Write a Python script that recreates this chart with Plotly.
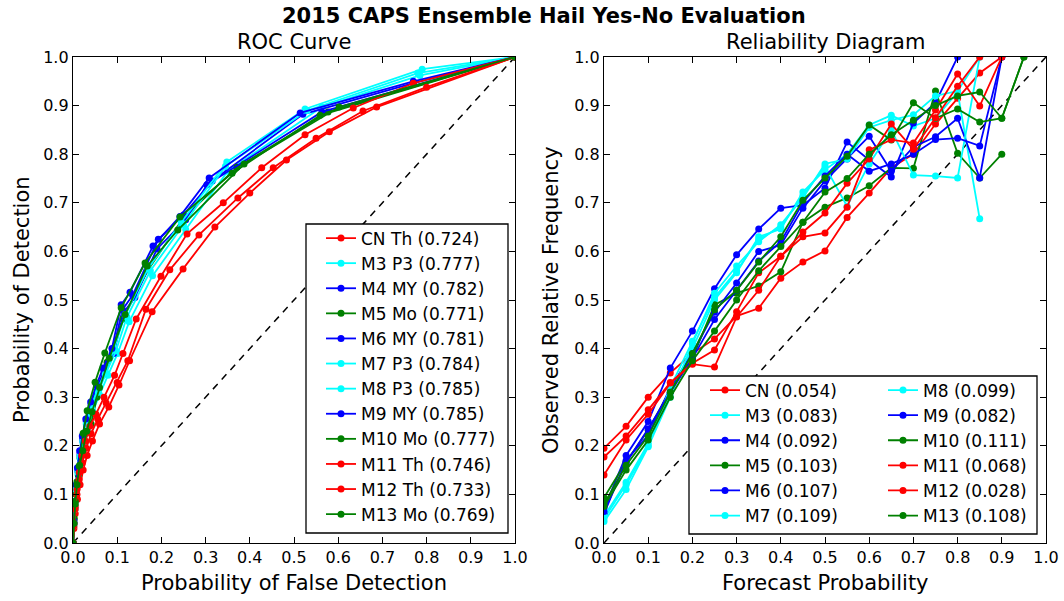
import plotly.graph_objects as go

# ---------------------------------------------------------------- data
names_roc = ["CN Th (0.724)", "M3 P3 (0.777)", "M4 MY (0.782)", "M5 Mo (0.771)",
             "M6 MY (0.781)", "M7 P3 (0.784)", "M8 P3 (0.785)", "M9 MY (0.785)",
             "M10 Mo (0.777)", "M11 Th (0.746)", "M12 Th (0.733)", "M13 Mo (0.769)"]
names_rel = ["CN (0.054)", "M3 (0.083)", "M4 (0.092)", "M5 (0.103)", "M6 (0.107)",
             "M7 (0.109)", "M8 (0.099)", "M9 (0.082)", "M10 (0.111)", "M11 (0.068)",
             "M12 (0.028)", "M13 (0.108)"]
colors = ["#ff0000", "#00ffff", "#0000ff", "#008000", "#0000ff", "#00ffff",
          "#00ffff", "#0000ff", "#008000", "#ff0000", "#ff0000", "#008000"]

# ROC curve points (probability of false detection, probability of detection)
pofd_cn = [0, 0.002, 0.005, 0.010, 0.016, 0.023, 0.032, 0.044, 0.060, 0.081, 0.104, 0.128,
           0.179, 0.249, 0.321, 0.400, 0.483, 0.580, 0.687, 1.0]
pod_cn = [0, 0.03, 0.06, 0.09, 0.12, 0.15, 0.18, 0.21, 0.245, 0.28, 0.325, 0.375,
          0.476, 0.564, 0.650, 0.720, 0.788, 0.846, 0.897, 1.0]
pofd_m3 = [0, 0.002, 0.005, 0.008, 0.012, 0.017, 0.024, 0.033, 0.045, 0.060, 0.079, 0.101,
           0.127, 0.180, 0.255, 0.350, 0.563, 0.785, 1.0]
pod_m3 = [0, 0.035, 0.07, 0.105, 0.14, 0.17, 0.20, 0.235, 0.27, 0.305, 0.345, 0.39,
          0.455, 0.55, 0.645, 0.765, 0.897, 0.962, 1.0]
pofd_m4 = [0, 0.002, 0.004, 0.007, 0.011, 0.016, 0.022, 0.030, 0.041, 0.054, 0.070, 0.090,
           0.112, 0.135, 0.193, 0.250, 0.315, 0.520, 0.770, 1.0]
pod_m4 = [0, 0.04, 0.08, 0.115, 0.15, 0.185, 0.215, 0.25, 0.285, 0.32, 0.355, 0.395,
          0.48, 0.51, 0.625, 0.675, 0.745, 0.882, 0.946, 1.0]
pofd_m5 = [0, 0.003, 0.007, 0.012, 0.016, 0.023, 0.041, 0.054, 0.077, 0.113, 0.170, 0.249,
           0.371, 0.577, 1.0]
pod_m5 = [0, 0.05, 0.10, 0.14, 0.175, 0.20, 0.245, 0.30, 0.372, 0.461, 0.562, 0.668,
          0.773, 0.887, 1.0]
pofd_m6 = [0, 0.002, 0.004, 0.007, 0.011, 0.016, 0.022, 0.031, 0.042, 0.056, 0.071, 0.092,
           0.115, 0.140, 0.190, 0.255, 0.303, 0.563, 1.0]
pod_m6 = [0, 0.04, 0.078, 0.112, 0.148, 0.18, 0.21, 0.245, 0.28, 0.315, 0.35, 0.39,
          0.475, 0.505, 0.605, 0.665, 0.737, 0.887, 1.0]
pofd_m7 = [0, 0.002, 0.004, 0.007, 0.011, 0.016, 0.023, 0.031, 0.043, 0.057, 0.075, 0.097,
           0.122, 0.175, 0.250, 0.345, 0.530, 0.780, 1.0]
pod_m7 = [0, 0.04, 0.075, 0.11, 0.145, 0.175, 0.205, 0.24, 0.275, 0.31, 0.35, 0.395,
          0.465, 0.56, 0.655, 0.775, 0.89, 0.967, 1.0]
pofd_m8 = [0, 0.002, 0.004, 0.007, 0.011, 0.016, 0.022, 0.030, 0.041, 0.055, 0.072, 0.093,
           0.118, 0.170, 0.245, 0.348, 0.525, 0.790, 1.0]
pod_m8 = [0, 0.04, 0.08, 0.115, 0.15, 0.18, 0.21, 0.245, 0.28, 0.315, 0.35, 0.40,
          0.47, 0.565, 0.66, 0.784, 0.893, 0.975, 1.0]
pofd_m9 = [0, 0.002, 0.004, 0.007, 0.010, 0.015, 0.021, 0.029, 0.040, 0.053, 0.068, 0.088,
           0.109, 0.129, 0.181, 0.242, 0.308, 0.514, 0.770, 1.0]
pod_m9 = [0, 0.045, 0.085, 0.12, 0.155, 0.19, 0.22, 0.255, 0.29, 0.325, 0.36, 0.40,
          0.49, 0.516, 0.611, 0.672, 0.751, 0.885, 0.95, 1.0]
pofd_m10 = [0, 0.002, 0.005, 0.009, 0.014, 0.023, 0.032, 0.050, 0.072, 0.109, 0.163, 0.242,
            0.360, 0.559, 1.0]
pod_m10 = [0, 0.041, 0.086, 0.126, 0.158, 0.226, 0.272, 0.331, 0.391, 0.484, 0.576, 0.671,
           0.761, 0.880, 1.0]
pofd_m11 = [0, 0.002, 0.005, 0.009, 0.014, 0.020, 0.028, 0.038, 0.052, 0.070, 0.094, 0.113,
            0.143, 0.199, 0.258, 0.340, 0.427, 0.525, 0.634, 0.770, 1.0]
pod_m11 = [0, 0.04, 0.075, 0.11, 0.145, 0.18, 0.21, 0.24, 0.265, 0.30, 0.345, 0.39,
           0.461, 0.549, 0.636, 0.700, 0.772, 0.840, 0.895, 0.946, 1.0]
pofd_m12 = [0, 0.002, 0.005, 0.009, 0.014, 0.021, 0.030, 0.041, 0.056, 0.075, 0.100, 0.124,
            0.165, 0.219, 0.285, 0.373, 0.453, 0.550, 0.656, 0.800, 1.0]
pod_m12 = [0, 0.035, 0.07, 0.10, 0.13, 0.165, 0.195, 0.225, 0.255, 0.288, 0.33, 0.375,
           0.481, 0.562, 0.634, 0.710, 0.772, 0.833, 0.889, 0.938, 1.0]
pofd_m13 = [0, 0.002, 0.005, 0.009, 0.015, 0.022, 0.031, 0.043, 0.060, 0.082, 0.118, 0.168,
            0.237, 0.387, 0.602, 1.0]
pod_m13 = [0, 0.04, 0.08, 0.12, 0.16, 0.19, 0.23, 0.27, 0.32, 0.38, 0.47, 0.57,
           0.644, 0.780, 0.897, 1.0]

roc_pofd = [pofd_cn, pofd_m3, pofd_m4, pofd_m5, pofd_m6, pofd_m7, pofd_m8, pofd_m9,
            pofd_m10, pofd_m11, pofd_m12, pofd_m13]
roc_pod = [pod_cn, pod_m3, pod_m4, pod_m5, pod_m6, pod_m7, pod_m8, pod_m9,
           pod_m10, pod_m11, pod_m12, pod_m13]

# Reliability: observed relative frequency per forecast-probability bin
prob_bins = [0.0, 0.05, 0.1, 0.15, 0.2, 0.25, 0.3, 0.35, 0.4, 0.45, 0.5,
             0.55, 0.6, 0.65, 0.7, 0.75, 0.8, 0.85, 0.9, 0.95, 1.0]
obs_cn = [0.195, 0.24, 0.30, 0.35, 0.39, 0.42, 0.467, 0.483, 0.545, 0.578, 0.601,
          0.67, 0.72, 0.772, 0.80, 0.862, 0.915, 0.967, 1.0]
obs_m3 = [0.05, 0.12, 0.20, 0.31, 0.40, 0.50, 0.556, 0.63, 0.646, 0.722, 0.768,
          0.80, 0.86, 0.88, 0.858, 0.874, 0.928, 0.667]
obs_m4 = [0.07, 0.18, 0.25, 0.36, 0.436, 0.523, 0.593, 0.646, 0.689, 0.695, 0.73,
          0.825, 0.788, 0.753, 0.864, 0.906, 1.0]
obs_m5 = [0.093, 0.167, 0.232, 0.315, 0.38, 0.49, 0.514, 0.529, 0.558, 0.66, 0.691,
          0.71, 0.735, 0.772, 0.771, 0.93, 0.802, 0.751, 0.80]
obs_m6 = [0.06, 0.17, 0.222, 0.32, 0.39, 0.475, 0.535, 0.60, 0.613, 0.689, 0.745,
          0.79, 0.837, 0.765, 0.815, 0.836, 0.874, 0.751, 1.0]
obs_m7 = [0.044, 0.11, 0.198, 0.30, 0.41, 0.514, 0.57, 0.62, 0.655, 0.71, 0.78,
          0.79, 0.855, 0.87, 0.881, 0.92, 0.93, 1.0]
obs_m8 = [0.055, 0.125, 0.205, 0.32, 0.415, 0.505, 0.56, 0.625, 0.65, 0.715, 0.775,
          0.693, 0.78, 0.85, 0.757, 0.755, 0.751, 1.0]
obs_m9 = [0.065, 0.165, 0.235, 0.31, 0.38, 0.46, 0.52, 0.58, 0.62, 0.70, 0.755,
          0.80, 0.765, 0.78, 0.80, 0.83, 0.833, 0.817, 1.0]
obs_m10 = [0.08, 0.16, 0.22, 0.31, 0.39, 0.48, 0.52, 0.578, 0.63, 0.705, 0.751,
           0.796, 0.86, 0.829, 0.906, 0.874, 0.893, 0.866, 0.874, 1.0]
obs_m11 = [0.177, 0.22, 0.274, 0.33, 0.37, 0.397, 0.476, 0.556, 0.59, 0.63, 0.638,
           0.691, 0.809, 0.83, 0.823, 0.891, 0.965, 0.899, 1.0]
obs_m12 = [0.14, 0.212, 0.265, 0.329, 0.368, 0.362, 0.465, 0.52, 0.59, 0.64, 0.679,
           0.74, 0.79, 0.862, 0.81, 0.875, 0.94, 1.0]
obs_m13 = [0.075, 0.15, 0.212, 0.30, 0.375, 0.436, 0.50, 0.56, 0.61, 0.66, 0.722,
           0.75, 0.80, 0.84, 0.87, 0.90, 0.92, 0.928, 0.874, 1.0]

rel_obs = [obs_cn, obs_m3, obs_m4, obs_m5, obs_m6, obs_m7, obs_m8, obs_m9,
           obs_m10, obs_m11, obs_m12, obs_m13]

tick_vals = [0.0, 0.1, 0.2, 0.3, 0.4, 0.5, 0.6, 0.7, 0.8, 0.9, 1.0]
tick_text = ["0.0", "0.1", "0.2", "0.3", "0.4", "0.5", "0.6", "0.7", "0.8", "0.9", "1.0"]

# ---------------------------------------------------------------- figure
W, H = 1064, 601
FONT = "DejaVu Sans"

def px_x(p):
    return p / W

def px_y(p):
    return 1 - p / H

fig = go.Figure()

# no-skill diagonals
for xa, ya in (("x", "y"), ("x2", "y2")):
    fig.add_trace(go.Scatter(x=[0, 1], y=[0, 1], mode="lines", xaxis=xa, yaxis=ya,
                             line=dict(color="black", width=1.5, dash="7px,6px"),
                             showlegend=False, hoverinfo="skip"))

for i in range(len(names_roc)):
    fig.add_trace(go.Scatter(
        x=roc_pofd[i], y=roc_pod[i], mode="lines+markers", name=names_roc[i],
        xaxis="x", yaxis="y", legend="legend",
        line=dict(color=colors[i], width=1.8),
        marker=dict(color=colors[i], size=7, symbol="circle", line=dict(width=0)),
    ))

for i in range(len(names_rel)):
    fig.add_trace(go.Scatter(
        x=prob_bins[:len(rel_obs[i])], y=rel_obs[i], mode="lines+markers",
        name=names_rel[i], xaxis="x2", yaxis="y2",
        legend="legend2" if i < 6 else "legend3",
        line=dict(color=colors[i], width=1.8),
        marker=dict(color=colors[i], size=7, symbol="circle", line=dict(width=0)),
    ))

axis_style = dict(
    range=[0, 1], tickmode="array", tickvals=tick_vals, ticktext=tick_text,
    ticks="inside", ticklen=6, tickwidth=1, tickcolor="black",
    showline=True, linecolor="black", linewidth=1.3, mirror="ticks",
    showgrid=False, zeroline=False, fixedrange=True, automargin=False,
    tickfont=dict(family=FONT, size=16, color="black"),
)

y_dom = [px_y(543), px_y(57)]
legend_common = dict(
    bgcolor="rgba(0,0,0,0)", borderwidth=0, xanchor="left", yanchor="top",
    font=dict(family=FONT, size=17, color="black"), itemwidth=30,
    tracegroupgap=0,
)

fig.update_layout(
    width=W, height=H,
    margin=dict(l=0, r=0, t=0, b=0),
    paper_bgcolor="white", plot_bgcolor="white",
    font=dict(family=FONT, color="black"),
    xaxis=dict(domain=[px_x(73), px_x(515)], anchor="y", **axis_style),
    yaxis=dict(domain=y_dom, anchor="x", **axis_style),
    xaxis2=dict(domain=[px_x(604), px_x(1046)], anchor="y2", **axis_style),
    yaxis2=dict(domain=y_dom, anchor="x2", **axis_style),
    legend=dict(x=px_x(321), y=px_y(220.5), **legend_common),
    legend2=dict(x=px_x(705), y=px_y(372.5), **legend_common),
    legend3=dict(x=px_x(883), y=px_y(372.5), **legend_common),
    shapes=[
        dict(type="rect", xref="paper", yref="paper", layer="above",
             x0=px_x(306), x1=px_x(508), y0=px_y(533), y1=px_y(224),
             fillcolor="white", line=dict(color="black", width=1.3)),
        dict(type="rect", xref="paper", yref="paper", layer="above",
             x0=px_x(689), x1=px_x(1037), y0=px_y(534), y1=px_y(376),
             fillcolor="white", line=dict(color="black", width=1.3)),
    ],
    annotations=[
        dict(text="<b>2015 CAPS Ensemble Hail Yes-No Evaluation</b>", x=px_x(544), y=px_y(16),
             xref="paper", yref="paper", showarrow=False, xanchor="center", yanchor="middle",
             font=dict(family=FONT, size=21, color="black")),
        dict(text="ROC Curve", x=px_x(294), y=px_y(42), xref="paper", yref="paper",
             showarrow=False, xanchor="center", yanchor="middle",
             font=dict(family=FONT, size=21, color="black")),
        dict(text="Reliability Diagram", x=px_x(825), y=px_y(42), xref="paper", yref="paper",
             showarrow=False, xanchor="center", yanchor="middle",
             font=dict(family=FONT, size=21, color="black")),
        dict(text="Probability of False Detection", x=px_x(294), y=px_y(583),
             xref="paper", yref="paper", showarrow=False, xanchor="center", yanchor="middle",
             font=dict(family=FONT, size=21, color="black")),
        dict(text="Forecast Probability", x=px_x(825), y=px_y(583),
             xref="paper", yref="paper", showarrow=False, xanchor="center", yanchor="middle",
             font=dict(family=FONT, size=21, color="black")),
        dict(text="Probability of Detection", x=px_x(22), y=px_y(300), textangle=-90,
             xref="paper", yref="paper", showarrow=False, xanchor="center", yanchor="middle",
             font=dict(family=FONT, size=21, color="black")),
        dict(text="Observed Relative Frequency", x=px_x(551), y=px_y(300), textangle=-90,
             xref="paper", yref="paper", showarrow=False, xanchor="center", yanchor="middle",
             font=dict(family=FONT, size=21, color="black")),
    ],
)

fig.write_html("out.html")
